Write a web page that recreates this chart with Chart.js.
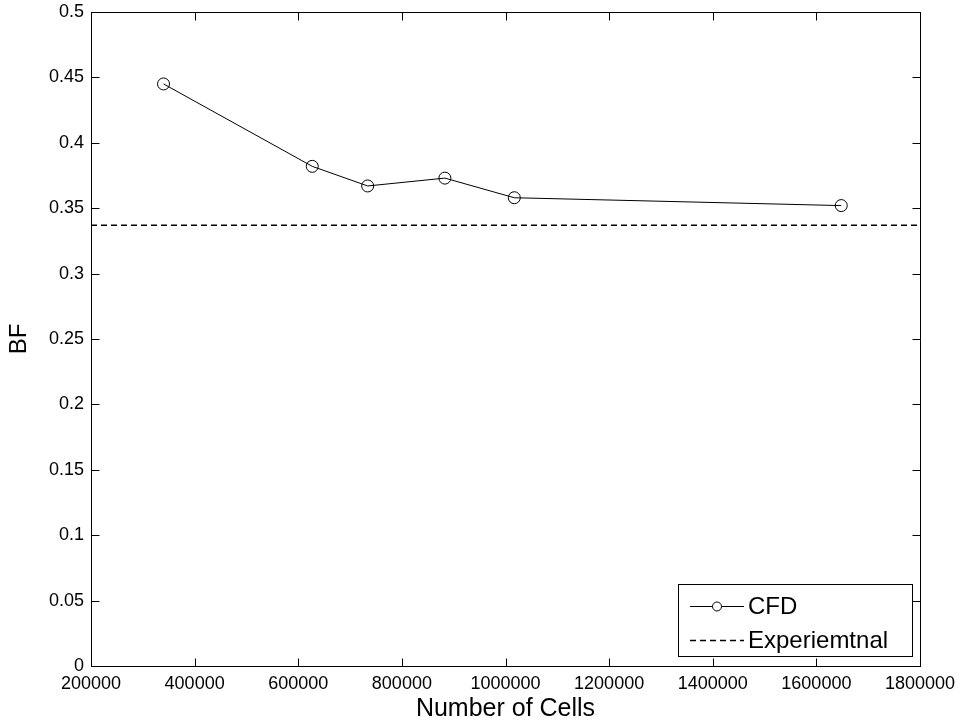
<!DOCTYPE html>
<html>
<head>
<meta charset="utf-8">
<script src="https://cdn.jsdelivr.net/npm/chart.js@4/dist/chart.umd.min.js"></script>
<style>
  html, body { margin: 0; padding: 0; background: #fff; }
  #wrap { width: 962px; height: 727px; position: relative; }
</style>
</head>
<body>
<div id="wrap"><canvas id="c" width="962" height="727"></canvas></div>
<script>
// Data
const numberOfCells = [340000, 627000, 734000, 883000, 1017000, 1648000];
const bfValues = [0.445, 0.382, 0.367, 0.373, 0.358, 0.352];
const experimentalBF = 0.337;
const xRange = [200000, 1800000];
const yRange = [0, 0.5];
const seriesLabels = ['CFD', 'Experiemtnal'];

const FONT = '"Liberation Sans", Arial, sans-serif';

const cfdData = numberOfCells.map((x, i) => ({ x: x, y: bfValues[i] }));
const expData = xRange.map(x => ({ x: x, y: experimentalBF }));

// Box, inward ticks and legend (MATLAB style)
const matlabPlugin = {
  id: 'matlab',
  afterDraw(chart) {
    const ctx = chart.ctx;
    const a = chart.chartArea;
    const xs = chart.scales.x, ys = chart.scales.y;
    const L = Math.round(a.left) + 0.5, R = Math.round(a.right) + 0.5;
    const T = Math.round(a.top) + 0.5, B = Math.round(a.bottom) + 0.5;
    const tl = 8;
    ctx.save();
    ctx.strokeStyle = '#000';
    ctx.lineWidth = 1;
    ctx.beginPath();
    ctx.rect(L, T, R - L, B - T);
    xs.ticks.forEach(t => {
      const px = Math.round(xs.getPixelForValue(t.value)) + 0.5;
      ctx.moveTo(px, B); ctx.lineTo(px, B - tl);
      ctx.moveTo(px, T); ctx.lineTo(px, T + tl);
    });
    ys.ticks.forEach(t => {
      const py = Math.round(ys.getPixelForValue(t.value)) + 0.5;
      ctx.moveTo(L, py); ctx.lineTo(L + tl, py);
      ctx.moveTo(R, py); ctx.lineTo(R - tl, py);
    });
    ctx.stroke();

    // Legend
    const bx = 678.5, by = 584.5, bw = 234, bh = 72;
    ctx.fillStyle = '#fff';
    ctx.fillRect(bx, by, bw, bh);
    ctx.strokeRect(bx, by, bw, bh);
    const ds = chart.data.datasets;
    const rows = [606, 640];
    ctx.font = '24px ' + FONT;
    ctx.textBaseline = 'middle';
    ctx.textAlign = 'left';
    ds.forEach((d, i) => {
      const y = rows[i] + 0.5;
      ctx.beginPath();
      ctx.strokeStyle = d.borderColor;
      ctx.lineWidth = d.borderWidth;
      ctx.setLineDash(d.borderDash || []);
      ctx.moveTo(690, y); ctx.lineTo(744, y);
      ctx.stroke();
      ctx.setLineDash([]);
      if (d.pointRadius > 0) {
        ctx.beginPath();
        ctx.fillStyle = '#fff';
        ctx.arc(717, y, 4.5, 0, Math.PI * 2);
        ctx.fill();
        ctx.lineWidth = 1;
        ctx.stroke();
      }
      ctx.fillStyle = '#000';
      ctx.fillText(d.label, 748, rows[i] + 1);
    });
    ctx.restore();
  }
};

new Chart(document.getElementById('c'), {
  type: 'line',
  data: {
    datasets: [
      {
        label: seriesLabels[0],
        data: cfdData,
        borderColor: '#000',
        borderWidth: 1,
        pointRadius: 6,
        pointStyle: 'circle',
        pointBackgroundColor: 'rgba(0,0,0,0)',
        pointBorderColor: '#000',
        pointBorderWidth: 1,
        fill: false,
        tension: 0
      },
      {
        label: seriesLabels[1],
        data: expData,
        borderColor: '#000',
        borderWidth: 1.6,
        borderDash: [6, 4],
        pointRadius: 0,
        fill: false,
        tension: 0
      }
    ]
  },
  options: {
    responsive: false,
    animation: false,
    devicePixelRatio: 1,
    layout: { padding: { top: 12, right: 42, left: 0, bottom: 0 } },
    plugins: { legend: { display: false }, tooltip: { enabled: false } },
    scales: {
      x: {
        type: 'linear',
        min: xRange[0], max: xRange[1],
        afterFit: s => { s.height = 61; s.paddingLeft = 0; s.paddingRight = 0; },
        grid: { display: false, drawTicks: false },
        border: { display: true, color: '#000' },
        ticks: {
          stepSize: 200000,
          padding: 7,
          color: '#000',
          maxRotation: 0,
          autoSkip: false,
          font: { family: FONT, size: 18 },
          callback: v => String(v)
        },
        title: {
          display: true,
          text: 'Number of Cells',
          color: '#000',
          font: { family: FONT, size: 25 },
          padding: { top: 0, bottom: 3 }
        }
      },
      y: {
        type: 'linear',
        min: yRange[0], max: yRange[1],
        afterFit: s => { s.width = 91; s.paddingTop = 0; s.paddingBottom = 0; },
        grid: { display: false, drawTicks: false },
        border: { display: true, color: '#000' },
        ticks: {
          stepSize: 0.05,
          padding: 7,
          color: '#000',
          autoSkip: false,
          font: { family: FONT, size: 18 },
          callback: v => String(parseFloat(Number(v).toFixed(2)))
        },
        title: {
          display: true,
          text: 'BF',
          color: '#000',
          font: { family: FONT, size: 24 },
          padding: { top: 5, bottom: 0 }
        }
      }
    }
  },
  plugins: [matlabPlugin]
});
</script>
</body>
</html>
